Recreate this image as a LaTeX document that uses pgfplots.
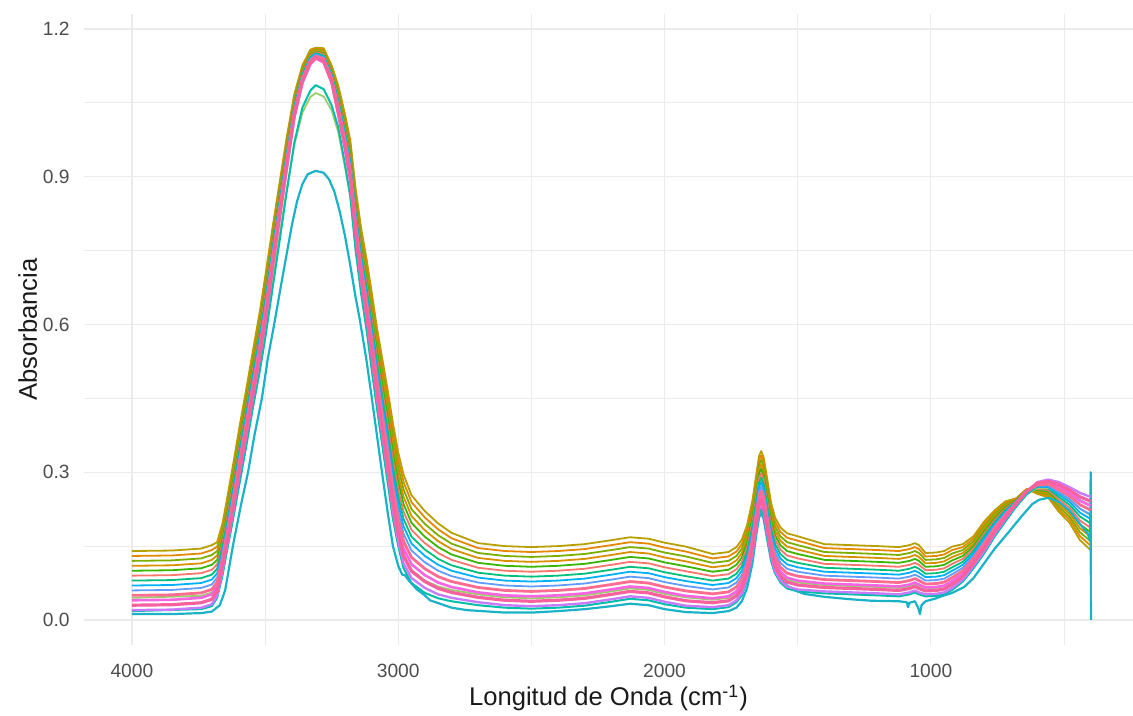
\documentclass[border=0pt]{standalone}
\usepackage{pgfplots}
\pgfplotsset{compat=1.18}
\usepackage{pgfplotstable}
\usepackage{fontspec}
\setmainfont{Liberation Sans}

\definecolor{gridgrey}{HTML}{EBEBEB}
\definecolor{ticktext}{HTML}{4D4D4D}
\definecolor{titletext}{HTML}{1A1A1A}
\definecolor{cA}{HTML}{C77CFF}
\definecolor{cB}{HTML}{F8619E}
\definecolor{cC}{HTML}{F564E3}
\definecolor{cD}{HTML}{FF6C91}
\definecolor{cE}{HTML}{619CFF}
\definecolor{cF}{HTML}{00B0F6}
\definecolor{cG}{HTML}{00BF7D}
\definecolor{cH}{HTML}{F8766D}
\definecolor{cI}{HTML}{39B600}
\definecolor{cJ}{HTML}{D89000}
\definecolor{cK}{HTML}{7CAE00}
\definecolor{cL}{HTML}{E58700}
\definecolor{cM}{HTML}{B79F00}
\definecolor{cteal}{HTML}{00BFA8}
\definecolor{clgreen}{HTML}{9CCB6E}
\definecolor{ccyan}{HTML}{1AB2C6}

% absorbance spectra, one column per sample
\pgfplotstableread{
x s0 s1 s2 s3 s4 s5 s6 s7 s8 s9 s10 s11 s12
4000 0.020 0.030 0.040 0.050 0.060 0.070 0.080 0.090 0.100 0.110 0.120 0.130 0.140
3850 0.021 0.031 0.041 0.051 0.061 0.071 0.081 0.091 0.101 0.111 0.121 0.131 0.141
3740 0.025 0.035 0.045 0.055 0.065 0.075 0.085 0.095 0.105 0.115 0.125 0.135 0.145
3700 0.032 0.042 0.052 0.062 0.072 0.082 0.092 0.102 0.112 0.122 0.132 0.142 0.152
3680 0.050 0.059 0.068 0.077 0.086 0.095 0.104 0.113 0.122 0.131 0.140 0.149 0.158
3660 0.100 0.108 0.116 0.124 0.132 0.140 0.148 0.156 0.164 0.172 0.180 0.188 0.196
3643 0.150 0.158 0.166 0.174 0.182 0.190 0.198 0.206 0.214 0.222 0.230 0.238 0.246
3620 0.220 0.228 0.236 0.244 0.252 0.260 0.268 0.276 0.284 0.292 0.300 0.308 0.316
3595 0.300 0.308 0.316 0.324 0.332 0.340 0.348 0.356 0.364 0.372 0.380 0.388 0.396
3570 0.375 0.383 0.391 0.399 0.407 0.415 0.423 0.431 0.439 0.447 0.455 0.463 0.471
3546 0.450 0.458 0.466 0.474 0.482 0.490 0.498 0.506 0.514 0.522 0.530 0.538 0.546
3520 0.530 0.538 0.546 0.554 0.562 0.570 0.578 0.586 0.594 0.602 0.610 0.618 0.626
3500 0.600 0.608 0.616 0.624 0.632 0.640 0.648 0.656 0.664 0.672 0.680 0.688 0.696
3470 0.720 0.727 0.734 0.741 0.748 0.755 0.762 0.769 0.776 0.783 0.790 0.797 0.804
3440 0.835 0.841 0.847 0.853 0.859 0.865 0.871 0.877 0.883 0.889 0.895 0.901 0.907
3420 0.910 0.916 0.921 0.927 0.932 0.938 0.943 0.949 0.954 0.960 0.965 0.971 0.976
3390 1.020 1.024 1.028 1.032 1.036 1.040 1.044 1.048 1.052 1.056 1.060 1.064 1.068
3360 1.090 1.093 1.096 1.099 1.102 1.105 1.108 1.111 1.114 1.117 1.120 1.123 1.126
3330 1.128 1.131 1.133 1.136 1.138 1.141 1.143 1.146 1.148 1.151 1.153 1.156 1.158
3310 1.140 1.142 1.144 1.145 1.147 1.149 1.151 1.153 1.154 1.156 1.158 1.160 1.162
3280 1.132 1.134 1.137 1.139 1.142 1.144 1.146 1.149 1.151 1.154 1.156 1.158 1.161
3250 1.090 1.093 1.096 1.099 1.102 1.105 1.108 1.111 1.114 1.117 1.120 1.123 1.126
3225 1.025 1.030 1.035 1.040 1.045 1.050 1.055 1.060 1.065 1.070 1.075 1.080 1.085
3200 0.955 0.961 0.967 0.973 0.979 0.985 0.991 0.997 1.003 1.009 1.015 1.021 1.027
3180 0.890 0.897 0.904 0.911 0.918 0.925 0.932 0.939 0.946 0.953 0.960 0.967 0.974
3160 0.780 0.788 0.796 0.804 0.812 0.820 0.828 0.836 0.844 0.852 0.860 0.868 0.876
3140 0.690 0.699 0.708 0.717 0.726 0.735 0.744 0.753 0.762 0.771 0.780 0.789 0.798
3118 0.610 0.620 0.630 0.640 0.650 0.660 0.670 0.680 0.690 0.700 0.710 0.720 0.730
3100 0.535 0.546 0.557 0.568 0.579 0.590 0.601 0.612 0.623 0.634 0.645 0.656 0.667
3080 0.450 0.462 0.474 0.486 0.498 0.510 0.522 0.534 0.546 0.558 0.570 0.582 0.594
3060 0.375 0.388 0.401 0.414 0.427 0.440 0.453 0.466 0.479 0.492 0.505 0.518 0.531
3040 0.300 0.314 0.328 0.342 0.356 0.370 0.384 0.398 0.412 0.426 0.440 0.454 0.468
3020 0.220 0.235 0.250 0.265 0.280 0.295 0.310 0.325 0.340 0.355 0.370 0.385 0.400
3000 0.160 0.175 0.190 0.205 0.220 0.235 0.250 0.265 0.280 0.295 0.310 0.325 0.340
2980 0.115 0.130 0.145 0.160 0.175 0.190 0.205 0.220 0.235 0.250 0.265 0.280 0.295
2950 0.085 0.099 0.113 0.127 0.141 0.155 0.169 0.183 0.197 0.211 0.225 0.239 0.253
2900 0.065 0.078 0.091 0.104 0.117 0.130 0.143 0.156 0.169 0.182 0.195 0.208 0.221
2850 0.052 0.064 0.076 0.088 0.100 0.112 0.124 0.136 0.148 0.160 0.172 0.184 0.196
2800 0.045 0.056 0.067 0.078 0.089 0.100 0.111 0.122 0.133 0.144 0.155 0.166 0.177
2700 0.036 0.046 0.056 0.066 0.076 0.086 0.096 0.106 0.116 0.126 0.136 0.146 0.156
2600 0.030 0.040 0.050 0.060 0.070 0.080 0.090 0.100 0.110 0.120 0.130 0.140 0.150
2500 0.028 0.038 0.048 0.058 0.068 0.078 0.088 0.098 0.108 0.118 0.128 0.138 0.148
2400 0.030 0.040 0.050 0.060 0.070 0.080 0.090 0.100 0.110 0.120 0.130 0.140 0.150
2300 0.034 0.044 0.054 0.064 0.074 0.084 0.094 0.104 0.114 0.124 0.134 0.144 0.154
2200 0.042 0.052 0.062 0.072 0.082 0.092 0.102 0.112 0.122 0.132 0.142 0.152 0.162
2130 0.048 0.058 0.068 0.078 0.088 0.098 0.108 0.118 0.128 0.138 0.148 0.158 0.168
2060 0.045 0.055 0.065 0.075 0.085 0.095 0.105 0.115 0.125 0.135 0.145 0.155 0.165
2000 0.037 0.047 0.057 0.067 0.077 0.087 0.097 0.107 0.117 0.127 0.137 0.147 0.157
1920 0.029 0.039 0.049 0.059 0.069 0.079 0.089 0.099 0.109 0.119 0.129 0.139 0.149
1820 0.026 0.035 0.044 0.053 0.062 0.071 0.080 0.089 0.098 0.107 0.116 0.125 0.134
1760 0.030 0.039 0.048 0.057 0.066 0.075 0.084 0.093 0.102 0.111 0.120 0.129 0.138
1730 0.040 0.049 0.058 0.067 0.076 0.085 0.094 0.103 0.112 0.121 0.130 0.139 0.148
1710 0.055 0.064 0.073 0.082 0.091 0.100 0.109 0.118 0.127 0.136 0.145 0.154 0.163
1690 0.085 0.094 0.103 0.112 0.121 0.130 0.139 0.148 0.157 0.166 0.175 0.184 0.193
1670 0.135 0.144 0.153 0.162 0.171 0.180 0.189 0.198 0.207 0.216 0.225 0.234 0.243
1655 0.190 0.199 0.208 0.217 0.226 0.235 0.244 0.253 0.262 0.271 0.280 0.289 0.298
1645 0.225 0.234 0.243 0.252 0.261 0.270 0.279 0.288 0.297 0.306 0.315 0.324 0.333
1637 0.235 0.244 0.253 0.262 0.271 0.280 0.289 0.298 0.307 0.316 0.325 0.334 0.343
1628 0.222 0.231 0.240 0.249 0.258 0.267 0.276 0.285 0.294 0.303 0.312 0.321 0.330
1615 0.180 0.189 0.198 0.207 0.216 0.225 0.234 0.243 0.252 0.261 0.270 0.279 0.288
1600 0.130 0.139 0.148 0.157 0.166 0.175 0.184 0.193 0.202 0.211 0.220 0.229 0.238
1585 0.100 0.109 0.118 0.127 0.136 0.145 0.154 0.163 0.172 0.181 0.190 0.199 0.208
1565 0.080 0.089 0.098 0.107 0.116 0.125 0.134 0.143 0.152 0.161 0.170 0.179 0.188
1540 0.068 0.077 0.086 0.095 0.104 0.113 0.122 0.131 0.140 0.149 0.158 0.167 0.176
1500 0.062 0.071 0.080 0.089 0.098 0.107 0.116 0.125 0.134 0.143 0.152 0.161 0.170
1400 0.058 0.066 0.074 0.082 0.090 0.098 0.106 0.114 0.122 0.130 0.138 0.146 0.154
1300 0.056 0.064 0.072 0.080 0.088 0.096 0.104 0.112 0.120 0.128 0.136 0.144 0.152
1200 0.054 0.062 0.070 0.078 0.086 0.094 0.102 0.110 0.118 0.126 0.134 0.142 0.150
1120 0.052 0.060 0.068 0.076 0.084 0.092 0.100 0.108 0.116 0.124 0.132 0.140 0.148
1080 0.056 0.064 0.072 0.080 0.088 0.096 0.104 0.112 0.120 0.128 0.136 0.144 0.152
1060 0.060 0.068 0.076 0.084 0.092 0.100 0.108 0.116 0.124 0.132 0.140 0.148 0.156
1045 0.056 0.064 0.072 0.080 0.088 0.096 0.104 0.112 0.120 0.128 0.136 0.144 0.152
1020 0.052 0.059 0.066 0.073 0.080 0.087 0.094 0.101 0.108 0.115 0.122 0.129 0.136
980 0.053 0.060 0.067 0.074 0.081 0.088 0.095 0.102 0.109 0.116 0.123 0.130 0.137
950 0.056 0.063 0.070 0.077 0.084 0.091 0.098 0.105 0.112 0.119 0.126 0.133 0.140
920 0.065 0.072 0.079 0.086 0.093 0.100 0.107 0.114 0.121 0.128 0.135 0.142 0.149
880 0.082 0.088 0.094 0.100 0.106 0.112 0.118 0.124 0.130 0.136 0.142 0.148 0.154
840 0.110 0.115 0.120 0.125 0.130 0.135 0.140 0.145 0.150 0.155 0.160 0.165 0.170
800 0.140 0.145 0.150 0.155 0.160 0.165 0.170 0.175 0.180 0.185 0.190 0.195 0.200
760 0.175 0.179 0.183 0.187 0.191 0.195 0.199 0.203 0.207 0.211 0.215 0.219 0.223
720 0.205 0.208 0.211 0.214 0.217 0.220 0.223 0.226 0.229 0.232 0.235 0.238 0.241
680 0.235 0.236 0.237 0.238 0.239 0.240 0.241 0.242 0.243 0.244 0.245 0.246 0.247
640 0.260 0.261 0.261 0.262 0.262 0.263 0.263 0.264 0.264 0.265 0.265 0.266 0.266
600 0.280 0.278 0.276 0.274 0.272 0.270 0.268 0.266 0.264 0.262 0.260 0.258 0.256
560 0.285 0.282 0.279 0.276 0.273 0.270 0.267 0.264 0.261 0.258 0.255 0.252 0.249
520 0.280 0.275 0.270 0.265 0.260 0.255 0.250 0.245 0.240 0.235 0.230 0.225 0.220
480 0.270 0.264 0.258 0.252 0.246 0.240 0.234 0.228 0.222 0.216 0.210 0.204 0.198
440 0.258 0.250 0.242 0.234 0.226 0.218 0.210 0.202 0.194 0.186 0.178 0.170 0.162
400 0.250 0.241 0.232 0.223 0.214 0.205 0.196 0.187 0.178 0.169 0.160 0.151 0.142
}\spectra

% two samples with a weaker O-H band
\pgfplotstableread{
x t g
4000 0.018 0.045
3740 0.022 0.049
3700 0.028 0.056
3680 0.045 0.070
3660 0.090 0.112
3643 0.140 0.160
3620 0.205 0.222
3595 0.280 0.297
3570 0.355 0.372
3546 0.430 0.446
3520 0.505 0.520
3500 0.570 0.585
3470 0.680 0.693
3440 0.790 0.800
3420 0.865 0.870
3390 0.970 0.965
3360 1.040 1.030
3330 1.075 1.062
3310 1.086 1.070
3280 1.078 1.063
3250 1.045 1.035
3225 1.000 0.990
3200 0.925 0.920
3180 0.860 0.860
3160 0.750 0.756
3140 0.665 0.675
3118 0.585 0.600
3100 0.510 0.528
3080 0.430 0.452
3060 0.355 0.380
3040 0.280 0.308
3020 0.205 0.235
3000 0.150 0.178
2980 0.105 0.133
2950 0.075 0.102
2900 0.055 0.080
2850 0.044 0.068
2800 0.038 0.061
2700 0.030 0.052
2600 0.025 0.046
2500 0.023 0.044
2400 0.025 0.046
2300 0.029 0.050
2200 0.037 0.058
2130 0.043 0.064
2060 0.040 0.061
2000 0.032 0.053
1920 0.025 0.046
1820 0.022 0.041
1760 0.026 0.045
1730 0.036 0.055
1710 0.050 0.069
1690 0.080 0.099
1670 0.128 0.147
1655 0.182 0.200
1645 0.216 0.234
1637 0.226 0.244
1628 0.213 0.231
1615 0.172 0.190
1600 0.124 0.142
1585 0.095 0.113
1565 0.076 0.094
1540 0.064 0.082
1500 0.058 0.076
1400 0.054 0.071
1300 0.052 0.069
1200 0.050 0.067
1120 0.048 0.065
1080 0.052 0.069
1060 0.056 0.073
1045 0.052 0.069
1020 0.048 0.064
980 0.049 0.065
950 0.052 0.068
920 0.061 0.077
880 0.078 0.092
840 0.105 0.118
800 0.135 0.148
760 0.170 0.180
720 0.200 0.208
680 0.230 0.234
640 0.255 0.256
600 0.272 0.268
560 0.276 0.268
520 0.270 0.258
480 0.258 0.244
440 0.243 0.226
400 0.232 0.212
}\weak

% the sample with the lowest absorbance
\pgfplotstableread{
x y
4000 0.012
3850 0.012
3740 0.014
3700 0.017
3670 0.030
3650 0.060
3621 0.150
3590 0.235
3564 0.300
3540 0.375
3512 0.450
3490 0.530
3463 0.609
3440 0.680
3420 0.740
3400 0.800
3380 0.850
3360 0.885
3340 0.905
3310 0.912
3280 0.908
3260 0.895
3240 0.870
3220 0.830
3200 0.780
3180 0.720
3160 0.655
3144 0.609
3120 0.530
3099 0.450
3080 0.375
3061 0.300
3040 0.220
3020 0.150
3000 0.110
2985 0.092
2975 0.091
2960 0.080
2930 0.062
2900 0.050
2881 0.040
2800 0.025
2742 0.020
2600 0.015
2500 0.015
2400 0.018
2300 0.022
2200 0.028
2130 0.033
2060 0.030
2000 0.022
1920 0.016
1820 0.014
1760 0.018
1730 0.025
1710 0.038
1690 0.065
1670 0.115
1655 0.175
1645 0.208
1637 0.217
1628 0.205
1615 0.165
1600 0.120
1585 0.095
1567 0.087
1540 0.070
1500 0.058
1476 0.053
1400 0.047
1300 0.042
1221 0.039
1120 0.038
1090 0.036
1086 0.026
1080 0.035
1060 0.038
1048 0.025
1041 0.012
1035 0.030
1020 0.038
980 0.044
966 0.047
920 0.055
875 0.067
840 0.085
800 0.115
760 0.145
710 0.177
660 0.210
620 0.235
594 0.244
560 0.248
520 0.240
480 0.222
440 0.195
410 0.175
402 0.160
400 0.300
399 0.000
}\lowest

\begin{document}
\begin{tikzpicture}
\useasboundingbox (0,0) rectangle (566.5pt,358pt);
\begin{axis}[
  at={(42pt,35.5pt)}, anchor=south west,
  scale only axis, width=524.5pt, height=315.5pt,
  x dir=reverse,
  xmin=241, xmax=4180, ymin=-0.0508, ymax=1.2305,
  xtick={1000,2000,3000,4000}, xticklabels={1000,2000,3000,4000},
  ytick={0,0.3,0.6,0.9,1.2}, yticklabels={0.0,0.3,0.6,0.9,1.2},
  minor xtick={500,1500,2500,3500},
  minor ytick={0.15,0.45,0.75,1.05},
  grid=both,
  major grid style={line width=0.6pt, draw=gridgrey},
  minor grid style={line width=0.45pt, draw=gridgrey},
  axis line style={draw=none},
  major tick length=0pt, minor tick length=0pt,
  tick label style={font=\fontsize{9.6}{11}\selectfont, text=ticktext, inner sep=0pt},
  xticklabel style={anchor=base, yshift=-16.5pt},
  yticklabel style={anchor=east, xshift=-7pt},
  every axis x label/.style={at={(axis description cs:0.5,0)}, anchor=base, yshift=-30.5pt,
    font=\fontsize{12.8}{15}\selectfont, text=titletext, inner sep=0pt},
  every axis y label/.style={at={(axis description cs:0,0.5)}, xshift=-23.5pt, rotate=90, anchor=base,
    font=\fontsize{12.8}{15}\selectfont, text=titletext, inner sep=0pt},
  xlabel={Longitud de Onda (cm\textsuperscript{-1})},
  ylabel={Absorbancia},
  every axis plot/.append style={no marks, line join=round},
]
\addplot[cM, line width=0.9pt] table[x=x, y=s12] {\spectra};
\addplot[cL, line width=0.9pt] table[x=x, y=s11] {\spectra};
\addplot[cK, line width=0.9pt] table[x=x, y=s10] {\spectra};
\addplot[cJ, line width=0.9pt] table[x=x, y=s9] {\spectra};
\addplot[cI, line width=0.9pt] table[x=x, y=s8] {\spectra};
\addplot[cH, line width=0.9pt] table[x=x, y=s7] {\spectra};
\addplot[cG, line width=0.9pt] table[x=x, y=s6] {\spectra};
\addplot[clgreen, line width=0.9pt] table[x=x, y=g] {\weak};
\addplot[cF, line width=0.9pt] table[x=x, y=s5] {\spectra};
\addplot[cE, line width=0.9pt] table[x=x, y=s4] {\spectra};
\addplot[cteal, line width=1pt] table[x=x, y=t] {\weak};
\addplot[ccyan, line width=1.1pt] table[x=x, y=y] {\lowest};
\addplot[cA, line width=1.2pt] table[x=x, y=s0] {\spectra};
\addplot[cC, line width=1.3pt] table[x=x, y=s2] {\spectra};
\addplot[cD, line width=1.4pt] table[x=x, y=s3] {\spectra};
\addplot[cB, line width=1.6pt] table[x=x, y=s1] {\spectra};
\end{axis}
\end{tikzpicture}
\end{document}
